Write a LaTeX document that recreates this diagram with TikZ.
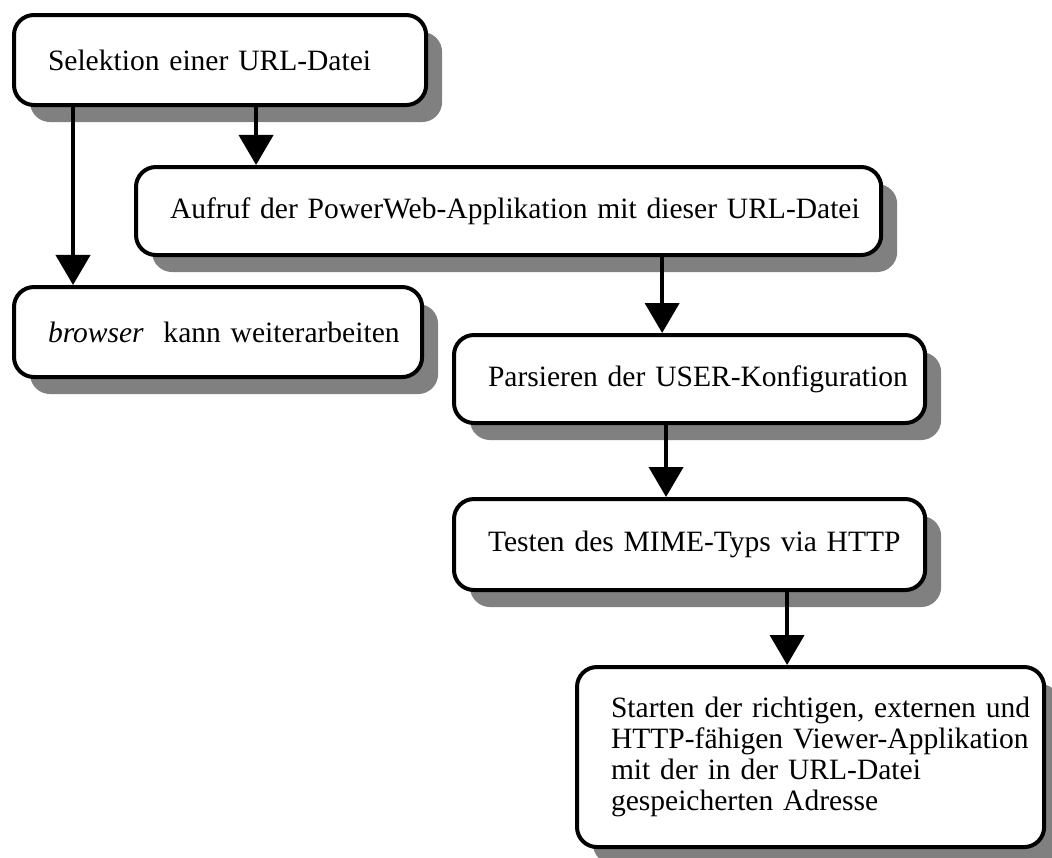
\documentclass[tikz,border=0pt]{standalone}
\usepackage{fontspec}
\setmainfont{Liberation Serif}
\usetikzlibrary{arrows.meta,shadows}

\tikzset{
  stage/.style={draw, line width=0.1cm, rounded corners=0.5cm, fill=white,
    anchor=north west, align=left, inner xsep=0pt, inner ysep=0pt,
    font=\fontsize{21}{22.2}\selectfont,
    execute at begin node={\leftskip=0.85cm\hyphenpenalty=10000\relax},
    drop shadow={shadow xshift=0.4cm, shadow yshift=-0.425cm, fill=black!50, opacity=1}},
  flow/.style={line width=0.1cm, -{Triangle[length=0.75cm,width=0.85cm]}}
}

\begin{document}
\begin{tikzpicture}[x=0.025cm, y=-0.025cm]
\useasboundingbox (0,0) rectangle (1052,857);
\node[stage, minimum width=10.3cm, minimum height=2.25cm, text width=10.3cm] (sel) at (12,13) {Selektion einer URL-Datei};
\node[stage, minimum width=18.625cm, minimum height=2.2cm, text width=18.625cm] (auf) at (134,165) {Aufruf der PowerWeb-Applikation mit dieser URL-Datei};
\node[stage, minimum width=10.2cm, minimum height=2.25cm, text width=10.2cm] (brw) at (12,285) {\textit{browser}\ \ kann weiterarbeiten};
\node[stage, minimum width=11.775cm, minimum height=2.2cm, text width=11.775cm] (par) at (452,333) {Parsieren der USER-Konfiguration};
\node[stage, minimum width=11.775cm, minimum height=2.275cm, text width=11.775cm] (tst) at (452,497) {Testen des MIME-Typs via HTTP};
\node[stage, minimum width=11.675cm, minimum height=4.5cm, text width=11.675cm] (sta) at (575,665) {Starten der richtigen, externen und\\HTTP-fähigen Viewer-Applikation\\mit der in der URL-Datei\\gespeicherten Adresse};

\draw[flow] ([xshift=1.525cm]sel.south west) coordinate (t1) -- (t1 |- brw.north);
\draw[flow] ([xshift=6.1cm]sel.south west) coordinate (t2) -- (t2 |- auf.north);
\draw[flow] ([xshift=13.2cm]auf.south west) coordinate (t3) -- (t3 |- par.north);
\draw[flow] ([xshift=5.35cm]par.south west) coordinate (t4) -- (t4 |- tst.north);
\draw[flow] ([xshift=8.375cm]tst.south west) coordinate (t5) -- (t5 |- sta.north);
\end{tikzpicture}
\end{document}
